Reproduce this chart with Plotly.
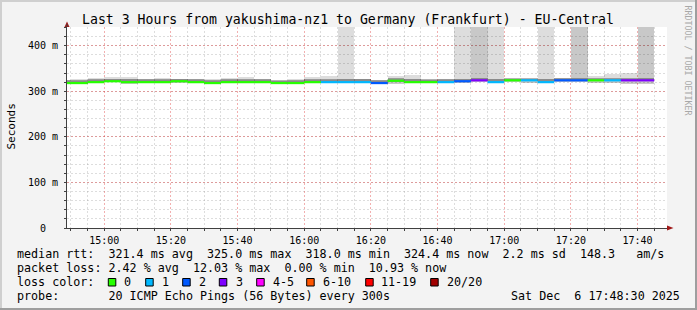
import plotly.graph_objects as go
import pandas as pd

# ---------------- data ----------------
DAY = "2025-12-06"
interval_start = [
    "14:45", "14:50", "14:55", "15:00", "15:05", "15:10", "15:15", "15:20", "15:25",
    "15:30", "15:35", "15:40", "15:45", "15:50", "15:55", "16:00", "16:05", "16:10",
    "16:15", "16:20", "16:25", "16:30", "16:35", "16:40", "16:45", "16:50", "16:55",
    "17:00", "17:05", "17:10", "17:15", "17:20", "17:25", "17:30", "17:35", "17:40",
]
# loss bucket index into loss_labels (0 -> "0", 1 -> "1", 2 -> "2", 3 -> "3")
loss_bucket = [
    0, 0, 0, 0, 0, 0, 0, 0, 0,
    0, 0, 0, 0, 0, 0, 0, 1, 1,
    1, 2, 0, 0, 0, 1, 2, 3, 1,
    0, 1, 1, 2, 2, 0, 1, 3, 3,
]
median_ms = [
    318, 318, 320, 322, 320, 320, 320, 322, 320,
    318, 320, 320, 320, 318, 318, 320, 320, 320,
    320, 318, 323, 320, 320, 320, 322, 324, 320,
    324, 324, 320, 324, 324, 324, 324, 324, 324,
]
smoke_lo_ms = [
    316, 316, 318, 320, 315, 318, 318, 319, 318,
    316, 318, 318, 318, 316, 316, 318, 318, 318,
    318, 316, 317, 318, 318, 318, 319, 320, 318,
    321, 318, 318, 321, 321, 318, 318, 315, 315,
]
# outer smoke top (values above the axis top are clipped, as in the reference)
smoke_hi_ms = [
    325, 326, 330, 332, 332, 327, 330, 328, 326,
    326, 330, 331, 326, 323, 327, 331, 333, 1000,
    327, 325, 333, 336, 325, 326, 1000, 1000, 1000,
    327, 326, 1000, 329, 1000, 334, 338, 340, 1000,
]
# denser (darker) smoke top
smoke_mid_ms = [
    322, 322, 324, 326, 326, 324, 325, 326, 324,
    322, 325, 325, 324, 322, 323, 325, 325, 326,
    326, 323, 327, 326, 325, 325, 327, 1000, 326,
    327, 327, 326, 327, 1000, 327, 327, 327, 1000,
]

loss_labels = ["0", "1", "2", "3", "4-5", "6-10", "11-19", "20/20"]
loss_colors = ["#26ff00", "#00b8ff", "#0059ff", "#7e00ff",
               "#ff00ff", "#ff5500", "#ff0000", "#a10000"]

y_tick_vals = [0, 100, 200, 300, 400]
y_tick_text = ["0\u00a0\u00a0", "100 m", "200 m", "300 m", "400 m"]

title_text = "Last 3 Hours from yakushima-nz1 to Germany (Frankfurt) - EU-Central"
row_median = "median rtt:  321.4 ms avg  325.0 ms max  318.0 ms min  324.4 ms now  2.2 ms sd  148.3   am/s"
row_loss = "packet loss: 2.42 % avg  12.03 % max  0.00 % min  10.93 % now"
row_color = "loss color:"
row_probe = "probe:       20 ICMP Echo Pings (56 Bytes) every 300s"
stamp_text = "Sat Dec  6 17:48:30 2025"
side_text = "RRDTOOL / TOBI OETIKER"

# ---------------- layout geometry (pixels) ----------------
W, H = 697, 310
PL, PR, PT, PB = 67, 667, 27, 228
MONO = "DejaVu Sans Mono"
X_RANGE = [f"{DAY} 14:48:50", f"{DAY} 17:48:50"]
Y_RANGE = [0, 441]


def px(x):
    return (x - PL) / (PR - PL)


def py(y):
    return (PB - y) / (PB - PT)


def nb(s):
    return s.replace(" ", "\u00a0")


starts = pd.to_datetime([f"{DAY} {t}" for t in interval_start])
step = pd.Timedelta(minutes=5)
centers = starts + step / 2
ends = starts + step

fig = go.Figure()

# smoke layers
fig.add_trace(go.Bar(
    x=centers, base=smoke_lo_ms,
    y=[h - l for h, l in zip(smoke_hi_ms, smoke_lo_ms)],
    width=step.total_seconds() * 1000,
    marker=dict(color="rgba(0,0,0,0.135)", line=dict(width=0)),
))
fig.add_trace(go.Bar(
    x=centers, base=smoke_lo_ms,
    y=[h - l for h, l in zip(smoke_mid_ms, smoke_lo_ms)],
    width=step.total_seconds() * 1000,
    marker=dict(color="rgba(0,0,0,0.094)", line=dict(width=0)),
))
CORE_BELOW, CORE_ABOVE = 2, 6
fig.add_trace(go.Bar(
    x=centers, base=[m - CORE_BELOW for m in median_ms],
    y=[CORE_BELOW + CORE_ABOVE] * len(median_ms),
    width=step.total_seconds() * 1000,
    marker=dict(color="rgba(0,0,0,0.30)", line=dict(width=0)),
))

# median line, coloured by loss bucket
for k, col in enumerate(loss_colors):
    xs, ys = [], []
    for s, e, m, b in zip(starts, ends, median_ms, loss_bucket):
        if b == k:
            xs += [s, e, None]
            ys += [m, m, None]
    if xs:
        fig.add_trace(go.Scatter(x=xs, y=ys, mode="lines",
                                 line=dict(color=col, width=2.2),
                                 connectgaps=False))

grid_minor = "rgba(143,143,143,0.30)"
grid_major = "rgba(222,48,48,0.38)"
axis_col = "#404040"

fig.update_layout(
    width=W, height=H,
    margin=dict(l=PL, r=W - PR, t=PT, b=H - PB, pad=0),
    paper_bgcolor="#f3f3f3", plot_bgcolor="#ffffff",
    barmode="overlay", bargap=0, showlegend=False, hovermode=False,
    font=dict(family=MONO, color="#000000", size=10),
    xaxis=dict(
        type="date", range=X_RANGE, tick0=f"{DAY} 15:00", dtick=20 * 60 * 1000,
        tickformat="%H:%M", showgrid=True, gridcolor=grid_major, griddash="2px,2px",
        gridwidth=1, zeroline=False, showline=True, linecolor=axis_col, linewidth=1,
        ticks="outside", ticklen=2, tickcolor=axis_col, layer="above traces",
        ticklabelstandoff=1,
        tickfont=dict(family=MONO, size=10, color="#000000"),
        minor=dict(dtick=5 * 60 * 1000, tick0=f"{DAY} 15:00", showgrid=True,
                   gridcolor=grid_minor, griddash="2px,2px", ticks="outside",
                   ticklen=2, tickcolor=axis_col),
        fixedrange=True,
    ),
    yaxis=dict(
        range=Y_RANGE, tickvals=y_tick_vals, ticktext=y_tick_text,
        showgrid=True, gridcolor=grid_major, griddash="2px,2px", gridwidth=1,
        zeroline=False, showline=True, linecolor=axis_col, linewidth=1,
        ticks="outside", ticklen=2, tickcolor=axis_col, layer="above traces",
        ticklabelstandoff=4,
        tickfont=dict(family=MONO, size=10, color="#000000"),
        minor=dict(dtick=20, tick0=0, showgrid=True, gridcolor=grid_minor,
                   griddash="2px,2px", ticks="outside", ticklen=2, tickcolor=axis_col),
        fixedrange=True,
    ),
)

shapes = []
# page border (light top/left, dark bottom/right)
def rect(x0, y0, x1, y1, fill, line_col=None, lw=0):
    return dict(type="rect", xref="paper", yref="paper",
                x0=px(x0), x1=px(x1), y0=py(y1), y1=py(y0),
                fillcolor=fill, line=dict(width=lw, color=line_col or fill),
                layer="above")

shapes += [
    rect(0, 0, W, 2, "#cfcfcf"),
    rect(0, 0, 2, H, "#cfcfcf"),
    rect(0, H - 2, W, H, "#9e9e9e"),
    rect(W - 2, 0, W, H, "#9e9e9e"),
]
# axis arrows
arrow_col = "#a01818"
shapes.append(dict(type="path", xref="paper", yref="paper", layer="above",
                   path=f"M {px(64.5)},{py(PT)} L {px(69.5)},{py(PT)} L {px(67)},{py(21.5)} Z",
                   fillcolor=arrow_col, line=dict(width=0)))
shapes.append(dict(type="line", xref="paper", yref="paper", layer="above",
                   x0=px(PL), x1=px(PL), y0=py(PT), y1=py(24),
                   line=dict(color=axis_col, width=1)))
shapes.append(dict(type="path", xref="paper", yref="paper", layer="above",
                   path=f"M {px(PR)},{py(225.5)} L {px(PR)},{py(230.5)} L {px(673.5)},{py(PB)} Z",
                   fillcolor=arrow_col, line=dict(width=0)))

# loss colour swatches
swatch_x = [108.3, 145.7, 182.7, 219.3, 256.7, 306.7, 365.7, 430.7]
label_x = [123, 161, 198, 235, 272.3, 321.7, 380, 445.7]
for sx, col in zip(swatch_x, loss_colors):
    shapes.append(rect(sx, 278.5, sx + 7.5, 286, col, "#000000", 1))

fig.update_layout(shapes=shapes)

LEG = 11.7
ann = []


def text(x, y, s, size=LEG, xanchor="left", color="#000000", angle=0, yanchor="middle"):
    ann.append(dict(xref="paper", yref="paper", x=px(x), y=py(y), text=nb(s),
                    showarrow=False, xanchor=xanchor, yanchor=yanchor,
                    font=dict(family=MONO, size=size, color=color),
                    textangle=angle, borderpad=0))


text(348, 19.3, title_text, size=13.2, xanchor="center")
text(11.5, 127, "Seconds", size=11, xanchor="center", angle=-90)
text(16, 254.3, row_median)
text(16, 268.3, row_loss)
text(16, 282.3, row_color)
for lx, lab in zip(label_x, loss_labels):
    text(lx, 282.3, lab)
text(16, 296, row_probe)
text(680.5, 296, stamp_text, xanchor="right")
text(687.5, 60, side_text, size=8.3, xanchor="center", color="#a8a8a8", angle=90)

fig.update_layout(annotations=ann)

fig.write_html("out.html")
